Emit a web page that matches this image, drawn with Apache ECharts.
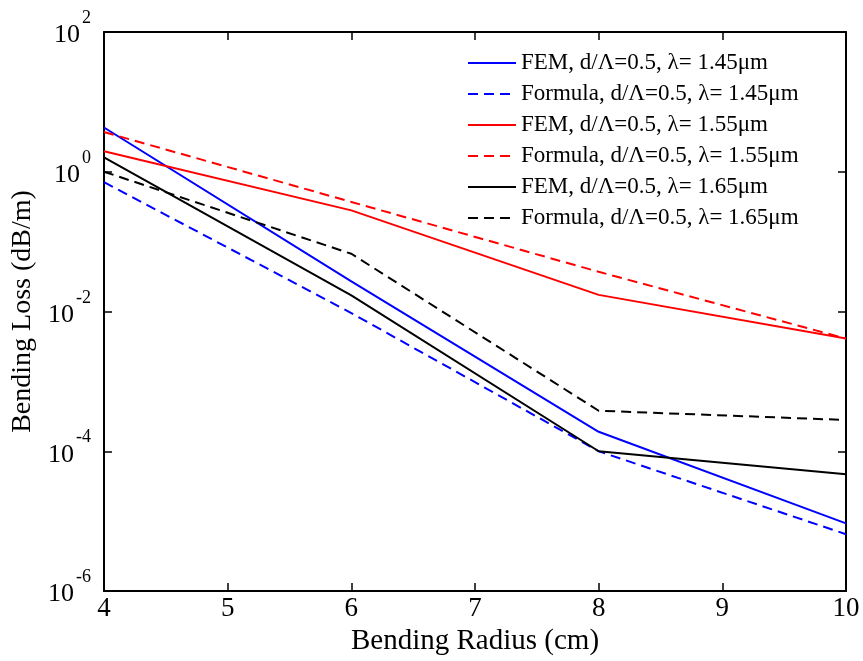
<!DOCTYPE html>
<html><head><meta charset="utf-8">
<script src="https://cdn.jsdelivr.net/npm/echarts@6/dist/echarts.min.js"></script>
<style>html,body{margin:0;padding:0;background:#fff}#c{width:863px;height:661px}</style>
</head><body><div id="c"></div>
<script>
const radius = [4, 6, 8, 10];
const names = [
  'FEM, d/\u039B=0.5, \u03BB= 1.45\u03BCm',
  'Formula, d/\u039B=0.5, \u03BB= 1.45\u03BCm',
  'FEM, d/\u039B=0.5, \u03BB= 1.55\u03BCm',
  'Formula, d/\u039B=0.5, \u03BB= 1.55\u03BCm',
  'FEM, d/\u039B=0.5, \u03BB= 1.65\u03BCm',
  'Formula, d/\u039B=0.5, \u03BB= 1.65\u03BCm'
];
const fem145 = [4.3, 0.027, 1.9e-4, 9.3e-6];
const formula145 = [0.71, 0.0095, 1.0e-4, 6.5e-6];
const fem155 = [1.97, 0.28, 0.0173, 0.0041];
const formula155 = [3.7, 0.37, 0.037, 0.0041];
const fem165 = [1.6, 0.017, 1.0e-4, 4.7e-5];
const formula165 = [1.0, 0.067, 3.8e-4, 2.8e-4];
const seriesData = [fem145, formula145, fem155, formula155, fem165, formula165];
const colors = ['#0000ff', '#0000ff', '#ff0000', '#ff0000', '#000000', '#000000'];
const dashed = [false, true, false, true, false, true];
const xTicks = [4, 5, 6, 7, 8, 9, 10];
const yMin = 1e-6, yMax = 100;

const FONT = '"Liberation Serif", "Times New Roman", serif';
const chart = echarts.init(document.getElementById('c'));
const series = seriesData.map((vals, i) => ({
  name: names[i],
  type: 'line',
  data: radius.map((r, j) => [r, vals[j]]),
  symbol: 'none',
  lineStyle: { color: colors[i], width: 2, type: dashed[i] ? [10, 6] : 'solid' },
  itemStyle: { color: colors[i] },
  animation: false,
  z: 3
}));
const axisLine = { show: true, lineStyle: { color: '#000', width: 2 } };
const tick = { inside: true, length: 8, lineStyle: { color: '#000', width: 1.5 } };
const supLabel = {
  fontFamily: FONT, color: '#000', margin: 13,
  formatter: v => '{b|10}{s|' + Math.round(Math.log10(v)) + '}',
  rich: {
    b: { fontSize: 26, lineHeight: 26, fontFamily: FONT, color: '#000', padding: [7, 0, 0, 0] },
    s: { fontSize: 18, lineHeight: 18, fontFamily: FONT, color: '#000', padding: [0, 0, 27, 2] }
  }
};
chart.setOption({
  backgroundColor: '#fff',
  animation: false,
  grid: { left: 104, right: 17, top: 32, bottom: 70 },
  legend: {
    data: names,
    orient: 'vertical',
    left: 462, top: 46,
    itemWidth: 48, itemHeight: 14, itemGap: 7,
    itemStyle: { opacity: 0 },
    textStyle: { fontFamily: FONT, fontSize: 23, lineHeight: 24, color: '#000' }
  },
  xAxis: [{
    type: 'value', min: xTicks[0], max: xTicks[xTicks.length - 1], interval: 1,
    name: 'Bending Radius (cm)', nameLocation: 'middle', nameGap: 32,
    nameTextStyle: { fontFamily: FONT, fontSize: 29, color: '#000' },
    axisLine: axisLine, axisTick: tick,
    axisLabel: { fontFamily: FONT, fontSize: 27, color: '#000', margin: 4 },
    splitLine: { show: false }
  }, {
    type: 'value', min: xTicks[0], max: xTicks[xTicks.length - 1], interval: 1, position: 'top',
    axisLine: axisLine, axisTick: tick,
    axisLabel: { show: false }, splitLine: { show: false }
  }],
  yAxis: [{
    type: 'log', logBase: 100, min: yMin, max: yMax,
    name: 'Bending Loss (dB/m)', nameLocation: 'middle', nameGap: 64,
    nameTextStyle: { fontFamily: FONT, fontSize: 28, color: '#000' },
    axisLine: axisLine, axisTick: tick,
    axisLabel: supLabel,
    minorTick: { show: false },
    splitLine: { show: false }
  }, {
    type: 'log', logBase: 100, min: yMin, max: yMax, position: 'right',
    axisLine: axisLine, axisTick: tick,
    axisLabel: { show: false }, splitLine: { show: false }
  }],
  series: series
});
</script></body></html>
